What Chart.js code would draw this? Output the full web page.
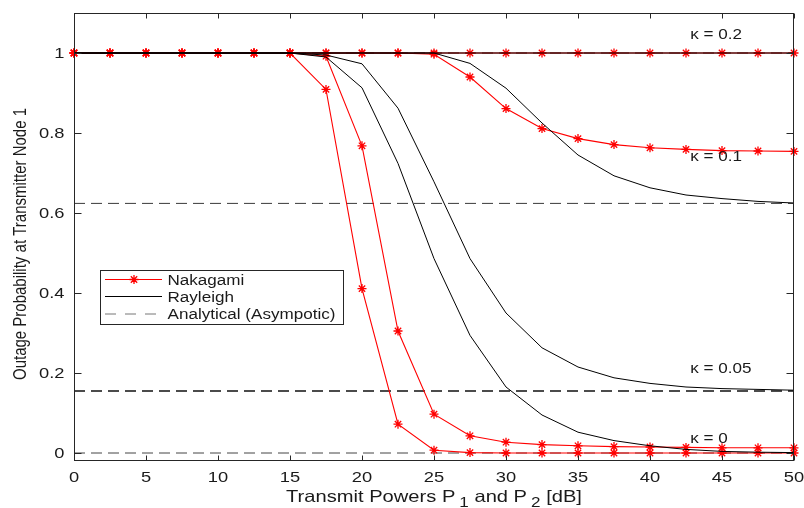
<!DOCTYPE html>
<html>
<head>
<meta charset="utf-8">
<script src="https://cdn.jsdelivr.net/npm/chart.js@4.4.1/dist/chart.umd.min.js"></script>
<style>
  html, body { margin: 0; padding: 0; background: #ffffff; }
  #wrap { width: 804px; height: 508px; }
</style>
</head>
<body>
<div id="wrap"><canvas id="c" width="804" height="508"></canvas></div>
<script>
// ---------------- data ----------------
const powers = [0, 2.5, 5, 7.5, 10, 12.5, 15, 17.5, 20, 22.5, 25, 27.5, 30, 32.5, 35, 37.5, 40, 42.5, 45, 47.5, 50];

const nakagamiK02  = [1, 1, 1, 1, 1, 1, 1, 1, 1, 1, 1, 1, 1, 1, 1, 1, 1, 1, 1, 1, 1];
const nakagamiK01  = [1, 1, 1, 1, 1, 1, 1, 1, 1, 1, 0.997, 0.940, 0.861, 0.811, 0.786, 0.771, 0.763, 0.759, 0.756, 0.755, 0.754];
const nakagamiK005 = [1, 1, 1, 1, 1, 1, 1, 0.992, 0.768, 0.305, 0.097, 0.043, 0.027, 0.021, 0.018, 0.016, 0.015, 0.014, 0.013, 0.013, 0.013];
const nakagamiK0   = [1, 1, 1, 1, 1, 1, 1, 0.909, 0.411, 0.072, 0.007, 0.001, 0, 0, 0, 0, 0, 0, 0, 0, 0];

const rayleighK02  = [1, 1, 1, 1, 1, 1, 1, 1, 1, 1, 1, 1, 1, 1, 1, 1, 1, 1, 1, 1, 1];
const rayleighK01  = [1, 1, 1, 1, 1, 1, 1, 1, 1, 1, 1, 0.974, 0.912, 0.825, 0.745, 0.693, 0.663, 0.645, 0.636, 0.629, 0.625];
const rayleighK005 = [1, 1, 1, 1, 1, 1, 1, 0.995, 0.973, 0.862, 0.678, 0.486, 0.350, 0.263, 0.215, 0.188, 0.174, 0.165, 0.161, 0.159, 0.157];
const rayleighK0   = [1, 1, 1, 1, 1, 1, 1, 0.990, 0.913, 0.724, 0.486, 0.294, 0.165, 0.095, 0.052, 0.031, 0.018, 0.009, 0.004, 0.002, 0.001];

const analyticalLevels = [1, 0.624, 0.155, 0];

const xTickValues = [0, 5, 10, 15, 20, 25, 30, 35, 40, 45, 50];
const xTickLabels = ['0', '5', '10', '15', '20', '25', '30', '35', '40', '45', '50'];
const yTickValues = [0, 0.2, 0.4, 0.6, 0.8, 1];
const yTickLabels = ['0', '0.2', '0.4', '0.6', '0.8', '1'];

const kappaLabels = ['κ = 0.2', 'κ = 0.1', 'κ = 0.05', 'κ = 0'];
const seriesNames = ['Nakagami', 'Rayleigh', 'Analytical (Asympotic)'];
const xTitleParts = ['Transmit Powers P', '1', ' and P', '2', ' [dB]'];
const yTitle = 'Outage Probability at Transmitter Node 1';

// ---------------- styles / placement ----------------
const SX = 1.22;                 // horizontal text stretch of the reference
const TXT = '#1a1a1a';
const FONT = '"Liberation Sans", Arial, sans-serif';
const kappaPos = [[42.8, 1.036], [42.8, 0.729], [42.8, 0.2], [42.8, 0.024]];
const analyticalColors = ['#333333', '#3a3a3a', '#111111', '#444444'];
const analyticalWidths = [1, 1, 1.7, 1];

function pts(ys) { return powers.map((p, i) => ({ x: p, y: ys[i] })); }
function hline(v) { return [{ x: powers[0], y: v }, { x: powers[powers.length - 1], y: v }]; }

const redStyle = {
  borderColor: '#ff0000', backgroundColor: '#ff0000', borderWidth: 1.1,
  pointStyle: 'star', pointRadius: 4.5, pointBorderColor: '#ff0000',
  pointBackgroundColor: '#ff0000', pointBorderWidth: 1.3, tension: 0, clip: false, order: 1
};
const blackStyle = {
  borderColor: '#000000', borderWidth: 1, pointRadius: 0, tension: 0, clip: false, order: 0
};

const datasets = [];
[nakagamiK02, nakagamiK01, nakagamiK005, nakagamiK0].forEach(d =>
  datasets.push(Object.assign({ label: seriesNames[0], data: pts(d) }, redStyle)));
[rayleighK02, rayleighK01, rayleighK005, rayleighK0].forEach(d =>
  datasets.push(Object.assign({ label: seriesNames[1], data: pts(d) }, blackStyle)));
analyticalLevels.forEach((v, i) =>
  datasets.push({
    label: seriesNames[2], data: hline(v), borderColor: analyticalColors[i],
    borderWidth: analyticalWidths[i], borderDash: [11, 6], pointRadius: 0, clip: false, order: 2
  }));

// ---------------- text helper ----------------
function sText(ctx, txt, x, y, align, size) {
  ctx.save();
  ctx.font = size + 'px ' + FONT;
  ctx.fillStyle = TXT;
  ctx.textBaseline = 'alphabetic';
  ctx.textAlign = 'left';
  const w = ctx.measureText(txt).width * SX;
  let x0 = x;
  if (align === 'center') x0 = x - w / 2;
  else if (align === 'right') x0 = x - w;
  ctx.translate(x0, y);
  ctx.scale(SX, 1);
  ctx.fillText(txt, 0, 0);
  ctx.restore();
  return w;
}
function sWidth(ctx, txt, size) {
  ctx.save(); ctx.font = size + 'px ' + FONT;
  const w = ctx.measureText(txt).width * SX; ctx.restore(); return w;
}
function drawStar(ctx, x, y, r) {
  ctx.beginPath();
  ctx.moveTo(x - r, y); ctx.lineTo(x + r, y);
  ctx.moveTo(x, y - r); ctx.lineTo(x, y + r);
  const d = r * Math.SQRT1_2;
  ctx.moveTo(x - d, y - d); ctx.lineTo(x + d, y + d);
  ctx.moveTo(x - d, y + d); ctx.lineTo(x + d, y - d);
  ctx.stroke();
}

const decor = {
  id: 'decor',
  afterDraw(chart) {
    const { ctx, chartArea: a, scales: { x, y } } = chart;
    ctx.save();
    // axes box
    ctx.strokeStyle = '#262626'; ctx.lineWidth = 1;
    const L = Math.round(a.left) + 0.5, T = Math.round(a.top) + 0.5;
    const R = Math.round(a.right) - 0.5, B = Math.round(a.bottom) - 0.5;
    ctx.strokeRect(L, T, R - L, B - T);
    ctx.beginPath();
    xTickValues.forEach(v => {
      const px = Math.round(x.getPixelForValue(v)) + 0.5;
      ctx.moveTo(px, B); ctx.lineTo(px, B - 5);
      ctx.moveTo(px, T); ctx.lineTo(px, T + 5);
    });
    yTickValues.forEach(v => {
      const py = Math.round(y.getPixelForValue(v)) + 0.5;
      ctx.moveTo(L, py); ctx.lineTo(L + 7, py);
      ctx.moveTo(R, py); ctx.lineTo(R - 7, py);
    });
    ctx.stroke();

    // tick labels
    xTickValues.forEach((v, i) => sText(ctx, xTickLabels[i], x.getPixelForValue(v), a.bottom + 21, 'center', 15));
    yTickValues.forEach((v, i) => sText(ctx, yTickLabels[i], a.left - 9.5, y.getPixelForValue(v) + 5.4, 'right', 15));

    // x title with subscripts
    const main = 16.5, sub = 14;
    const sizes = [main, sub, main, sub, main];
    const gaps = [0, 4, 0, 4, 0];
    let total = 0;
    xTitleParts.forEach((t, i) => { total += sWidth(ctx, t, sizes[i]) + gaps[i]; });
    let cx = (a.left + a.right) / 2 - total / 2;
    const base = a.bottom + 41;
    xTitleParts.forEach((t, i) => {
      cx += gaps[i];
      const off = sizes[i] === sub ? 5 : 0;
      cx += sText(ctx, t, cx, base + off, 'left', sizes[i]);
    });

    // y title (rotated)
    ctx.save();
    ctx.font = '15px ' + FONT;
    ctx.fillStyle = TXT;
    ctx.textAlign = 'center';
    ctx.textBaseline = 'alphabetic';
    ctx.translate(a.left - 48, 244);
    ctx.scale(SX, 1);
    ctx.rotate(-Math.PI / 2);
    ctx.fillText(yTitle, 0, 0);
    ctx.restore();

    // kappa labels
    kappaLabels.forEach((t, i) => {
      const px = x.getPixelForValue(kappaPos[i][0]);
      const py = y.getPixelForValue(kappaPos[i][1]);
      sText(ctx, t, px, py, 'left', 14);
    });

    // legend
    const lx = 100.5, ly = 270.5, lw = 243, lh = 54;
    ctx.fillStyle = '#ffffff';
    ctx.fillRect(lx, ly, lw, lh);
    ctx.strokeStyle = '#262626'; ctx.lineWidth = 1; ctx.setLineDash([]);
    ctx.strokeRect(lx, ly, lw, lh);
    const rows = [279.5, 296.5, 314];
    // Nakagami
    ctx.strokeStyle = '#ff0000'; ctx.lineWidth = 1;
    ctx.beginPath(); ctx.moveTo(105, rows[0]); ctx.lineTo(162, rows[0]); ctx.stroke();
    ctx.lineWidth = 1.3; drawStar(ctx, 134, rows[0], 4.5);
    // Rayleigh
    ctx.strokeStyle = '#000000'; ctx.lineWidth = 1;
    ctx.beginPath(); ctx.moveTo(105, rows[1]); ctx.lineTo(162, rows[1]); ctx.stroke();
    // Analytical
    ctx.strokeStyle = '#777777'; ctx.setLineDash([11, 9]);
    ctx.beginPath(); ctx.moveTo(105, rows[2]); ctx.lineTo(162, rows[2]); ctx.stroke();
    ctx.setLineDash([]);
    seriesNames.forEach((s, i) => sText(ctx, s, 167.5, rows[i] + 5.2, 'left', 14));
    ctx.restore();
  }
};

new Chart(document.getElementById('c'), {
  type: 'line',
  data: { datasets },
  options: {
    responsive: false,
    animation: false,
    events: [],
    layout: { padding: { left: 74, top: 13, right: 10, bottom: 47 } },
    plugins: { legend: { display: false }, tooltip: { enabled: false } },
    scales: {
      x: {
        type: 'linear', min: 0, max: 50,
        ticks: { display: false }, grid: { display: false, drawTicks: false },
        border: { display: false }, title: { display: false }
      },
      y: {
        type: 'linear', min: -0.02, max: 1.1,
        ticks: { display: false }, grid: { display: false, drawTicks: false },
        border: { display: false }, title: { display: false }
      }
    }
  },
  plugins: [decor]
});
</script>
</body>
</html>
